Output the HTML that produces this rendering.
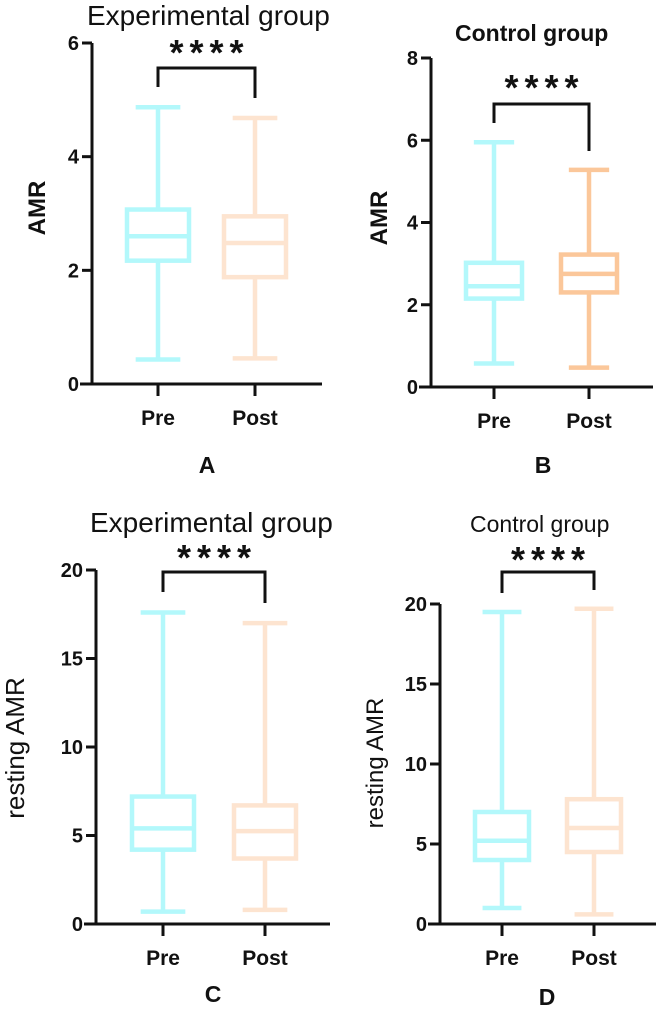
<!DOCTYPE html>
<html><head><meta charset="utf-8"><style>
html,body{margin:0;padding:0;background:#fff}
svg{display:block;font-family:"Liberation Sans",Arial,sans-serif}
</style></head><body>
<svg id="fig" width="660" height="1015" viewBox="0 0 660 1015"></svg>
<script>
const groups = ["Pre","Post"];
// [min, q1, median, q3, max] for Pre and Post
const panelA_pre  = [0.43, 2.17, 2.6, 3.07, 4.87];
const panelA_post = [0.45, 1.88, 2.48, 2.95, 4.68];
const panelB_pre  = [0.57, 2.15, 2.45, 3.02, 5.95];
const panelB_post = [0.47, 2.3, 2.75, 3.22, 5.28];
const panelC_pre  = [0.7, 4.2, 5.4, 7.2, 17.6];
const panelC_post = [0.8, 3.7, 5.25, 6.7, 17.0];
const panelD_pre  = [1.0, 4.0, 5.2, 7.0, 19.5];
const panelD_post = [0.6, 4.5, 6.0, 7.8, 19.7];
const ticksA = [0,2,4,6];
const ticksB = [0,2,4,6,8];
const ticksC = [0,5,10,15,20];
const ticksD = [0,5,10,15,20];

const NS="http://www.w3.org/2000/svg";
const svg=document.getElementById('fig');
function mk(tag,attrs,parent){const e=document.createElementNS(NS,tag);for(const k in attrs)e.setAttribute(k,attrs[k]);(parent||svg).appendChild(e);return e;}

const panels=[
 {id:'a',pre:panelA_pre,post:panelA_post,ticks:ticksA,ax:92,y0:384,y1:43,xEnd:322,xs:[158,255],bw:62,
  title:'Experimental group',tx:87,ty:25,tBold:false,tSize:28,ylab:'AMR',ylBold:true,ylSize:24,ylx:45,yly:208,
  br:{y:68,l:87,r:98},sy:65,lab:'A',lx:207,ly:473,postColor:'#fde4d0'},
 {id:'b',pre:panelB_pre,post:panelB_post,ticks:ticksB,ax:431,y0:387,y1:58,xEnd:653,xs:[494,589],bw:56,
  title:'Control group',tx:455,ty:41,tBold:true,tSize:23,ylab:'AMR',ylBold:true,ylSize:24,ylx:387,yly:218,
  br:{y:104,l:123,r:151},sy:100,lab:'B',lx:543,ly:473,postColor:'#fbc79a'},
 {id:'c',pre:panelC_pre,post:panelC_post,ticks:ticksC,ax:96,y0:924,y1:570,xEnd:330,xs:[163,265],bw:62,
  title:'Experimental group',tx:90,ty:532,tBold:false,tSize:28,ylab:'resting AMR',ylBold:false,ylSize:26,ylx:24,yly:748,
  br:{y:572,l:592,r:603},sy:570,lab:'C',lx:213,ly:1002,postColor:'#fde4d0'},
 {id:'d',pre:panelD_pre,post:panelD_post,ticks:ticksD,ax:440,y0:924,y1:604,xEnd:656,xs:[502,594],bw:54,
  title:'Control group',tx:470,ty:532,tBold:false,tSize:23,ylab:'resting AMR',ylBold:false,ylSize:24,ylx:383,yly:763,
  br:{y:572,l:593,r:590},sy:572,lab:'D',lx:547,ly:1005,postColor:'#fde4d0'}
];

panels.forEach(p=>{
  const g=mk('g',{});
  
  
  const max=p.ticks[p.ticks.length-1];
  const ys=v=>p.y0-(v/max)*(p.y0-p.y1);
  [p.pre,p.post].forEach((d,i)=>{
    const col=i===0?'#b3f8fb':p.postColor;
    const x=p.xs[i],hw=p.bw/2,cw=p.bw*0.36;
    const bg=mk('g',{stroke:col,'stroke-width':4.5,fill:'none'},g);
    
    
    mk('line',{x1:x,x2:x,y1:ys(d[4]),y2:ys(d[3])},bg);
    mk('line',{x1:x,x2:x,y1:ys(d[1]),y2:ys(d[0])},bg);
    mk('line',{x1:x-cw,x2:x+cw,y1:ys(d[4]),y2:ys(d[4])},bg);
    mk('line',{x1:x-cw,x2:x+cw,y1:ys(d[0]),y2:ys(d[0])},bg);
    mk('rect',{x:x-hw,y:ys(d[3]),width:p.bw,height:ys(d[1])-ys(d[3])},bg);
    mk('line',{x1:x-hw,x2:x+hw,y1:ys(d[2]),y2:ys(d[2])},bg);
  });
  const ax=mk('g',{stroke:'#111','stroke-width':3,fill:'none'},g);
  
  
  mk('line',{x1:p.ax,x2:p.ax,y1:p.y1,y2:p.y0+1.5},ax);
  mk('line',{x1:p.ax-12,x2:p.xEnd,y1:p.y0,y2:p.y0},ax);
  p.ticks.forEach(t=>{
    mk('line',{x1:p.ax-10,x2:p.ax,y1:ys(t),y2:ys(t)},ax);
    const tl=mk('text',{x:p.ax-13,y:ys(t)+7,'text-anchor':'end','font-size':20,'font-weight':'bold',fill:'#111'},g);
    tl.textContent=t;
    
    
  });
  p.xs.forEach((x,i)=>{
    mk('line',{x1:x,x2:x,y1:p.y0,y2:p.y0+12},ax);
    const xl=mk('text',{x:x,y:p.y0+41,'text-anchor':'middle','font-size':21,'font-weight':'bold',fill:'#111'},g);
    xl.textContent=groups[i];
    
    
  });
  const br=mk('path',{d:`M${p.xs[0]} ${p.br.l} V${p.br.y} H${p.xs[1]} V${p.br.r}`,stroke:'#111','stroke-width':3,fill:'none'},g);
  
  
  const st=mk('text',{x:(p.xs[0]+p.xs[1])/2+3,y:p.sy,'text-anchor':'middle','font-size':36,'font-weight':'bold',fill:'#111','letter-spacing':'6'},g);
  st.textContent='****';
  
  
  const ti=mk('text',{x:p.tx,y:p.ty,'text-anchor':'start','font-size':p.tSize,'font-weight':p.tBold?'bold':'normal',fill:'#111'},g);
  ti.textContent=p.title;
  
  
  const yl=mk('text',{x:p.ylx,y:p.yly,'text-anchor':'middle','font-size':p.ylSize,'font-weight':p.ylBold?'bold':'normal',fill:'#111',transform:`rotate(-90 ${p.ylx} ${p.yly})`},g);
  yl.textContent=p.ylab;
  
  
  const pl=mk('text',{x:p.lx,y:p.ly,'text-anchor':'middle','font-size':23,'font-weight':'bold',fill:'#111'},g);
  pl.textContent=p.lab;
  
  
});
</script>
</body></html>
